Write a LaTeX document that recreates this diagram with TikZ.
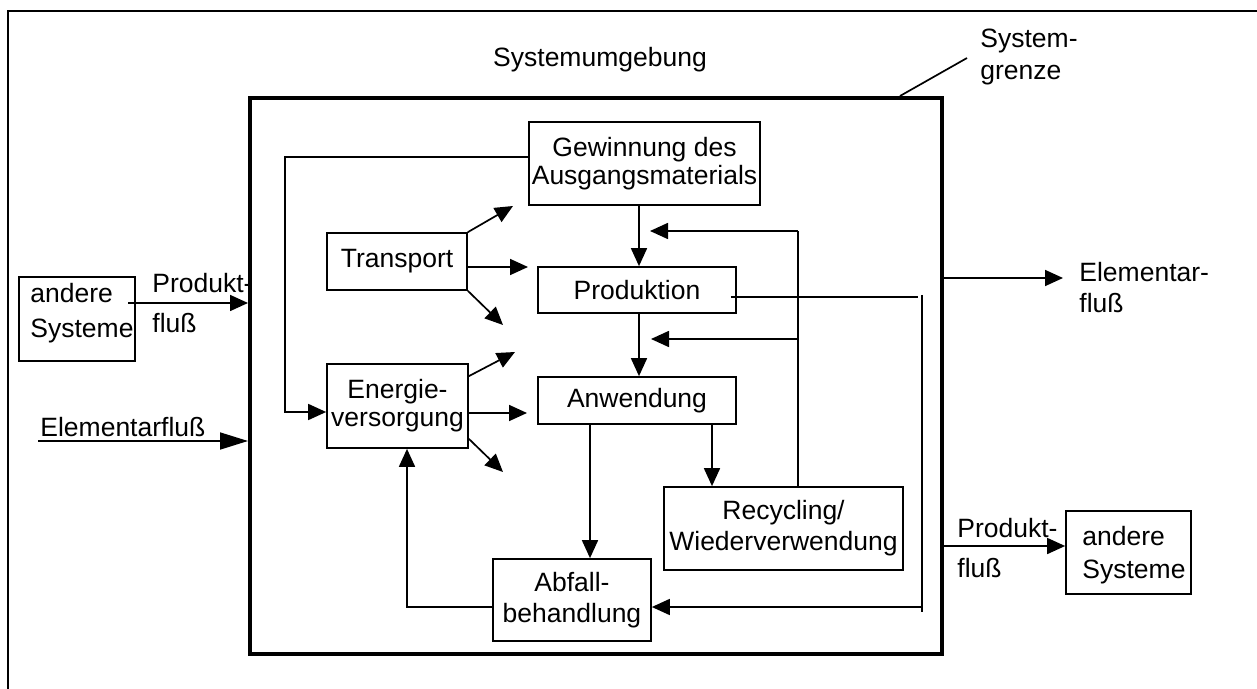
\documentclass[tikz,border=0pt]{standalone}
\usepackage{fontspec}
\setmainfont{Liberation Sans}
\usetikzlibrary{arrows.meta,calc}
\newcommand\fsz{\fontsize{13.25pt}{14pt}\selectfont}
\begin{document}
\begin{tikzpicture}[x=0.5pt,y=-0.5pt,
  thinline/.style={line width=0.85pt},
  arr/.style={thinline,-{Triangle[length=9pt,width=8pt]}},
  bigarr/.style={thinline,-{Triangle[length=14pt,width=8.5pt]}},
  box/.style={draw,thinline,inner sep=0pt,align=center,font=\fsz},
  txt/.style={inner sep=0pt,font=\fsz,anchor=base west}]
\useasboundingbox (0,0) rectangle (1257,689);
% outer frame
\draw[line width=1pt] (8,695) -- (8,11) -- (1265,11);
% system box
\node[draw,line width=2pt,minimum width=346pt,minimum height=278pt,inner sep=0pt] (sys) at (596,376) {};
% boxes
\node[box,minimum width=115.5pt,minimum height=41.5pt] (gew) at (644.5,163.5) {Gewinnung des\\Ausgangsmaterials};
\node[box,minimum width=70pt,minimum height=28.5pt] (trans) at (397,261.5) {Transport};
\node[box,minimum width=99pt,minimum height=23pt] (prod) at (637,290) {Produktion};
\node[box,minimum width=99pt,minimum height=23.5pt] (anw) at (637,400.5) {Anwendung};
\node[box,minimum width=70.5pt,minimum height=42pt] (ener) at (397.5,406) {Energie-\\versorgung};
\node[box,minimum width=119.5pt,minimum height=41.5pt] (rec) at (783.5,528.5) {Recycling/\\[1.5pt]Wiederverwendung};
\node[box,minimum width=79pt,minimum height=41pt] (abf) at (572,600) {Abfall-\\[1.5pt]behandlung};
\node[draw,thinline,minimum width=58pt,minimum height=42pt,inner sep=0pt] (andL) at (77,319) {};
\node[draw,thinline,minimum width=62.5pt,minimum height=41.5pt,inner sep=0pt] (andR) at (1128.5,552.5) {};
% texts
\node[txt,anchor=base] (umg) at (600,67) {Systemumgebung};
\node[txt] (sg1) at (980,48) {System-};
\node[txt] (sg2) at (980,80) {grenze};
\node[txt] (lpk1) at (152,293) {Produkt-};
\node[txt] (lpk2) at (152,333) {fluß};
\node[txt] (lel) at (40,436) {Elementarfluß};
\node[txt] (rel1) at (1079,282) {Elementar-};
\node[txt] (rel2) at (1079,313) {fluß};
\node[txt] (rpk1) at (957,537) {Produkt-};
\node[txt] (rpk2) at (957,577) {fluß};
\node[txt] (aL1) at (30,303) {andere};
\node[txt] (aL2) at (30,337) {Systeme};
\node[txt] (aR1) at (1082,545) {andere};
\node[txt] (aR2) at (1082,578) {Systeme};
% coordinates
\coordinate (sgs) at (900,0);
\coordinate (sg) at (967,58);
\coordinate (lp) at (128,303);
\coordinate (le) at (38,441);
\coordinate (re) at (1063,278);
\coordinate (rp) at (1066,546);
\coordinate (t1) at (513,206);
\coordinate (t2) at (528,267);
\coordinate (t3) at (503,325);
\coordinate (e1) at (515,352);
\coordinate (e2) at (527,413);
\coordinate (e3) at (503,472);
\coordinate (gl1) at (285,157);
\coordinate (gl2) at (285,412);
\coordinate (xa) at (639,0);
\coordinate (xb) at (712,0);
\coordinate (xc) at (590,0);
\coordinate (r1) at (798,231);
\coordinate (r2) at (798,339);
\coordinate (g1) at (650,231);
\coordinate (g2) at (651,339);
\coordinate (pr0) at (918,297);
\coordinate (pr1) at (922,295);
\coordinate (pr2) at (922,612);
\coordinate (pr3) at (922,607);
\coordinate (ab1) at (407,607);
% connectors
\draw[thinline] (sys.north -| sgs) -- (sg);
\draw[arr] (lp) -- (sys.west |- lp);
\draw[bigarr] (le) -- (sys.west |- le);
\draw[arr] (sys.east |- re) -- (re);
\draw[arr] (sys.east |- rp) -- (andR.west |- rp);
\draw[arr] (trans.north east) -- (t1);
\draw[arr] (trans.east |- t2) -- (t2);
\draw[arr] (trans.south east) -- (t3);
\draw[arr] ([yshift=-6.5pt]ener.north east) -- (e1);
\draw[arr] (ener.east |- e2) -- (e2);
\draw[arr] ([yshift=5pt]ener.south east) -- (e3);
\draw[arr] (gew.west |- gl1) -- (gl1) -- (gl2) -- (ener.west |- gl2);
\draw[arr] (gew.south -| xa) -- (prod.north -| xa);
\draw[arr] (prod.south -| xa) -- (anw.north -| xa);
\draw[arr] (anw.south -| xb) -- (rec.north -| xb);
\draw[arr] (anw.south -| xc) -- (abf.north -| xc);
\draw[thinline] (rec.north -| r1) -- (r1);
\draw[arr] (r1) -- (g1);
\draw[arr] (r2) -- (g2);
\draw[thinline] ([shift={(-3pt,-3.5pt)}]prod.east) -- (pr0);
\draw[thinline] (pr1) -- (pr2);
\draw[arr] (pr3) -- (abf.east |- pr3);
\draw[arr] (abf.west |- ab1) -- (ab1) -- (ener.south -| ab1);
\end{tikzpicture}
\end{document}
